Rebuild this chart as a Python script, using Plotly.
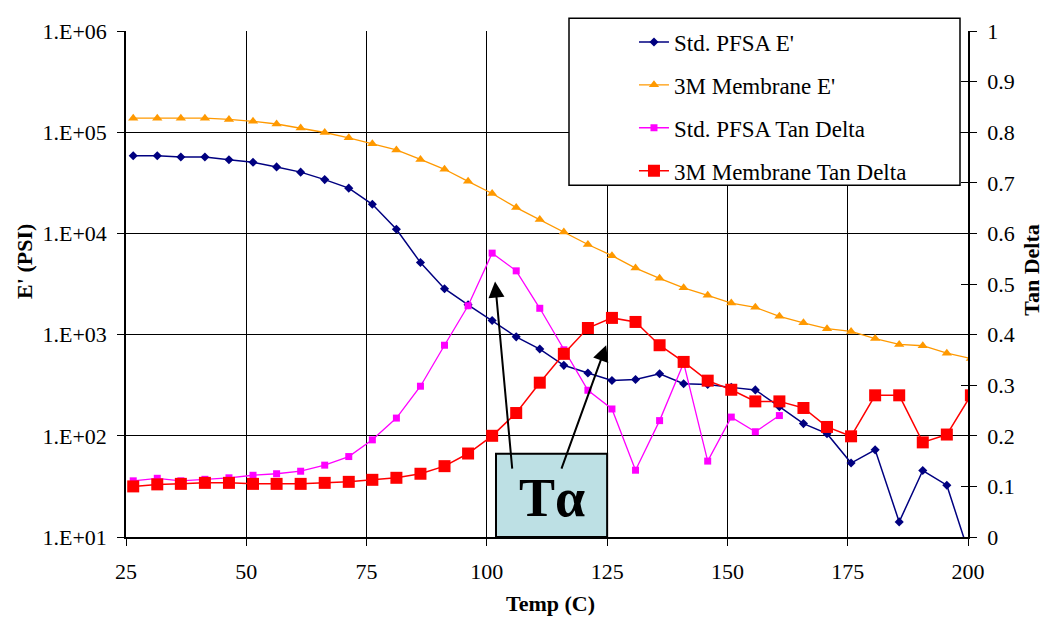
import plotly.graph_objects as go

# ---------------- data ----------------
temp_c = [26.5, 31.5, 36.4, 41.4, 46.4, 51.4, 56.3, 61.3, 66.3, 71.3, 76.2, 81.2,
          86.2, 91.2, 96.1, 101.1, 106.1, 111.0, 116.0, 121.0, 126.0, 130.9,
          135.9, 140.9, 145.9, 150.8, 155.8, 160.8, 165.8, 170.7, 175.7, 180.7,
          185.7, 190.6, 195.6, 200.6]

std_pfsa_e = [58500, 58500, 56800, 56800, 53500, 50400, 45400, 40300, 34000, 28000,
              19400, 11000, 5150, 2840, 1970, 1380, 950, 720, 497, 418, 352, 360,
              410, 327, 322, 301, 284, 194, 132, 105, 53.8, 72.6, 14.1, 45.4, 32.5, 6]

m3_membrane_e = [137700, 137700, 137700, 137700, 133700, 128000, 120500, 110200, 99300,
                 88100, 77000, 66800, 53800, 43000, 32700, 24800, 18000, 13700, 10300,
                 7770, 6030, 4540, 3600, 2900, 2445, 2047, 1858, 1518, 1308, 1144, 1076,
                 914, 800, 776, 655, 580]

std_pfsa_tan = [0.111, 0.116, 0.111, 0.114, 0.117, 0.122, 0.125, 0.130, 0.142, 0.159,
                0.192, 0.235, 0.298, 0.379, 0.457, 0.561, 0.526, 0.452, 0.370, 0.290,
                0.253, 0.132, 0.230, 0.344, 0.150, 0.237, 0.208, 0.240,
                None, None, None, None, None, None, None, None]

m3_membrane_tan = [0.100, 0.104, 0.105, 0.107, 0.107, 0.105, 0.105, 0.105, 0.107, 0.109,
                   0.113, 0.117, 0.125, 0.140, 0.165, 0.200, 0.245, 0.305, 0.362, 0.413,
                   0.433, 0.425, 0.379, 0.346, 0.309, 0.291, 0.268, 0.268, 0.255, 0.2175,
                   0.199, 0.280, 0.280, 0.187, 0.2025, 0.280]

x_ticks = [25, 50, 75, 100, 125, 150, 175, 200]
e_tick_vals = [1e1, 1e2, 1e3, 1e4, 1e5, 1e6]
e_tick_text = ["1.E+01", "1.E+02", "1.E+03", "1.E+04", "1.E+05", "1.E+06"]
tan_ticks = [0, 0.1, 0.2, 0.3, 0.4, 0.5, 0.6, 0.7, 0.8, 0.9, 1]
tan_tick_text = ["0", "0.1", "0.2", "0.3", "0.4", "0.5", "0.6", "0.7", "0.8", "0.9", "1"]

# Tα annotation: box and arrow anchors (data coordinates)
ta_box_x = [101.9, 125.0]
ta_box_y = [0.0, 0.1645]
arrow_heads = [(101.7, 0.505), (124.8, 0.379)]
arrow_tails = [(105.3, 0.132), (115.4, 0.132)]

FONT = "Liberation Serif"

fig = go.Figure()

fig.add_trace(go.Scatter(
    x=temp_c, y=std_pfsa_e, name="Std. PFSA E'", mode="lines+markers",
    line=dict(color="#000080", width=1.5),
    marker=dict(symbol="diamond", size=7, color="#000080"),
    legendgroup="a", yaxis="y"))
fig.add_trace(go.Scatter(
    x=temp_c, y=m3_membrane_e, name="3M Membrane E'", mode="lines+markers",
    line=dict(color="#FF9900", width=1.3),
    marker=dict(symbol="triangle-up", size=9, color="#FF9900"),
    legendgroup="b", yaxis="y"))
fig.add_trace(go.Scatter(
    x=temp_c, y=std_pfsa_tan, name="Std. PFSA Tan Delta", mode="lines+markers",
    line=dict(color="#FF00FF", width=1.3),
    marker=dict(symbol="square", size=7, color="#FF00FF"),
    legendgroup="c", yaxis="y2"))
fig.add_trace(go.Scatter(
    x=temp_c, y=m3_membrane_tan, name="3M Membrane Tan Delta", mode="lines+markers",
    line=dict(color="#FF0000", width=1.5),
    marker=dict(symbol="square", size=12, color="#FF0000"),
    legendgroup="d", yaxis="y2"))
# helper (empty) trace so the inside-tick overlay axis is drawn
fig.add_trace(go.Scatter(x=[], y=[], yaxis="y3", showlegend=False, hoverinfo="skip"))

tick_font = dict(family=FONT, size=22, color="black")

# page body has an 8px margin: figure is 1040x612 so the plot sits where the reference is
fig.update_layout(
    width=1040, height=612,
    margin=dict(l=118, r=80, t=14, b=83),
    paper_bgcolor="white", plot_bgcolor="white",
    font=dict(family=FONT, color="black"),
    xaxis=dict(
        range=[25, 200], tickvals=x_ticks, ticktext=[str(v) for v in x_ticks],
        showgrid=True, gridcolor="black", gridwidth=1,
        showline=True, linecolor="black", linewidth=1.5,
        ticks="outside", ticklen=7, tickcolor="black", ticklabelstandoff=7,
        tickfont=tick_font, zeroline=False),
    yaxis=dict(
        type="log", range=[1, 6], tickvals=e_tick_vals, ticktext=e_tick_text,
        showgrid=True, gridcolor="black", gridwidth=1,
        showline=True, linecolor="black", linewidth=1.5,
        ticks="outside", ticklen=7, tickcolor="black", ticklabelstandoff=6,
        tickfont=tick_font, zeroline=False),
    yaxis2=dict(
        overlaying="y", side="right", range=[0, 1],
        tickvals=tan_ticks, ticktext=tan_tick_text,
        showgrid=False, showline=True, linecolor="black", linewidth=1.5,
        ticks="outside", ticklen=7, tickcolor="black", ticklabelstandoff=6,
        tickfont=tick_font, zeroline=False),
    yaxis3=dict(
        overlaying="y", side="right", range=[0, 1], tickvals=tan_ticks,
        showgrid=False, showline=False, showticklabels=False,
        ticks="inside", ticklen=7, tickcolor="black", zeroline=False),
    legend=dict(
        x=0.6033, xanchor="left", y=1.0208, yanchor="top",
        bgcolor="rgba(0,0,0,0)", borderwidth=0,
        font=dict(family=FONT, size=23, color="black"),
        traceorder="grouped", tracegroupgap=10),
    showlegend=True,
)

# legend frame
fig.add_shape(type="rect", xref="paper", yref="paper",
              x0=(569 - 126) / 842, x1=(960 - 126) / 842,
              y0=(537 - 179) / 515, y1=(537 - 9) / 515,
              fillcolor="white", line=dict(color="black", width=1.5), layer="above")

# Tα box
fig.add_shape(type="rect", xref="x", yref="y2",
              x0=ta_box_x[0], x1=ta_box_x[1], y0=ta_box_y[0], y1=ta_box_y[1],
              fillcolor="#BDE0E4", line=dict(color="black", width=2), layer="above")
fig.add_annotation(x=sum(ta_box_x) / 2, y=0.078, xref="x", yref="y2",
                   text="<b>Tα</b>", showarrow=False,
                   font=dict(family=FONT, size=54, color="black"),
                   xanchor="center", yanchor="middle")

for (hx, hy), (tx, ty) in zip(arrow_heads, arrow_tails):
    fig.add_annotation(x=hx, y=hy, xref="x", yref="y2",
                       ax=tx, ay=ty, axref="x", ayref="y2",
                       text="", showarrow=True, arrowhead=2, arrowsize=1.6,
                       arrowwidth=2, arrowcolor="black")

# axis titles
fig.add_annotation(x=(25 - 126) / 842, y=(537 - 257) / 515, xref="paper", yref="paper",
                   text="<b>E' (PSI)</b>", textangle=-90, showarrow=False,
                   font=dict(family=FONT, size=22, color="black"),
                   xanchor="center", yanchor="middle")
fig.add_annotation(x=(1032 - 126) / 842, y=(537 - 266) / 515, xref="paper", yref="paper",
                   text="<b>Tan Delta</b>", textangle=-90, showarrow=False,
                   font=dict(family=FONT, size=22, color="black"),
                   xanchor="center", yanchor="middle")
fig.add_annotation(x=(550 - 126) / 842, y=(537 - 605) / 515, xref="paper", yref="paper",
                   text="<b>Temp (C)</b>", showarrow=False,
                   font=dict(family=FONT, size=22, color="black"),
                   xanchor="center", yanchor="middle")

fig.write_html("out.html")
